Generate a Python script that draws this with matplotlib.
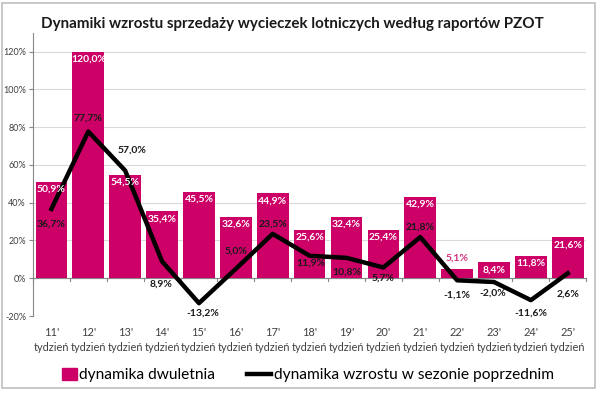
import matplotlib.pyplot as plt
from matplotlib.patches import Rectangle
from matplotlib.lines import Line2D
from matplotlib.legend_handler import HandlerPatch
import numpy as np

# data
weeks = ["11'", "12'", "13'", "14'", "15'", "16'", "17'", "18'", "19'", "20'",
         "21'", "22'", "23'", "24'", "25'"]
dwuletnia = [50.9, 120.0, 54.5, 35.4, 45.5, 32.6, 44.9, 25.6, 32.4, 25.4,
             42.9, 5.1, 8.4, 11.8, 21.6]
poprzedni = [36.7, 77.7, 57.0, 8.9, -13.2, 5.0, 23.5, 11.9, 10.8, 5.7,
             21.8, -1.1, -2.0, -11.6, 2.6]
# label offsets (points) for the line values
line_offsets = [(0, -11), (0, 10), (5, 15), (-1, -16), (3, -7), (0, 13), (0, 7),
                (1, -5), (0, -10), (0, -8), (0, 7), (0, -11), (-1, -8), (0, -9),
                (0, -15)]

plt.rcParams['font.family'] = ['Lato', 'DejaVu Sans']

pink = '#cc0066'
fig = plt.figure(figsize=(6, 3.95), dpi=100)
fig.patches.append(Rectangle((0.004, 0.018), 0.987, 0.974, transform=fig.transFigure,
                             fill=False, edgecolor='#bfbfbf', linewidth=1.2))
ax = fig.add_axes([0.055, 0.2, 0.922, 0.717])

x = np.arange(len(weeks))
ax.bar(x, dwuletnia, width=0.86, color=pink, zorder=2)
ax.plot(x, poprzedni, color='black', linewidth=3.2, zorder=3)

for i, v in enumerate(dwuletnia):
    if v < 8:
        ax.annotate(f'{v:.1f}%'.replace('.', ','), (x[i], v), xytext=(0, 4),
                    textcoords='offset points', ha='center', va='bottom',
                    fontsize=7.5, fontweight='bold', color='#d0307a', zorder=4)
    else:
        ax.annotate(f'{v:.1f}%'.replace('.', ','), (x[i], v), xytext=(0, -2),
                    textcoords='offset points', ha='center', va='top',
                    fontsize=7.5, fontweight='bold', color='white', zorder=4)

for i, v in enumerate(poprzedni):
    dx, dy = line_offsets[i]
    ax.annotate(f'{v:.1f}%'.replace('.', ','), (x[i], v), xytext=(dx, dy),
                textcoords='offset points', ha='center', va='center',
                fontsize=7.5, fontweight='bold', color='#1a1a1a', zorder=5)

ax.set_xlim(-0.5, len(weeks) - 0.5)
ax.set_ylim(-20, 130)
ax.set_yticks(range(-20, 121, 20))
ax.set_yticklabels([f'{t}%' for t in range(-20, 121, 20)], fontsize=6.5, color='#404040')
ax.yaxis.grid(True, color='#d9d9d9', linewidth=0.8, zorder=0)
ax.set_axisbelow(True)
ax.tick_params(axis='y', length=3, color='#868686', pad=2)

ax.set_xticks(x)
ax.set_xticklabels([w + '\ntydzień' for w in weeks], fontsize=7.9, color='#404040',
                   linespacing=1.4)
ax.tick_params(axis='x', length=0, pad=8)
for b in np.arange(-0.5, len(weeks), 1.0):
    ax.plot([b, b], [0, -1.6], color='#868686', linewidth=0.8, zorder=1, clip_on=False)
ax.axhline(0, color='#868686', linewidth=0.8, zorder=1)

for s in ['top', 'right', 'bottom']:
    ax.spines[s].set_visible(False)
ax.spines['left'].set_color('#868686')
ax.spines['left'].set_linewidth(0.8)

fig.text(0.488, 0.94, 'Dynamiki wzrostu sprzedaży wycieczek lotniczych według raportów PZOT',
         ha='center', va='center', fontsize=10.9, fontweight='bold', color='#1a1a1a')


# small square for the bar entry, placed at the right end of the handle box
def square(legend, orig_handle, xdescent, ydescent, width, height, fontsize):
    w = 11.0
    h = 8.6
    return Rectangle((width - w - xdescent, -ydescent + (height - h) / 2), w, h)


handles = [Rectangle((0, 0), 1, 1, color=pink),
           Line2D([], [], color='black', linewidth=3.2)]
fig.legend(handles, ['dynamika dwuletnia', 'dynamika wzrostu w sezonie poprzednim'],
           loc='center', bbox_to_anchor=(0.505, 0.05), ncol=2, frameon=False,
           fontsize=11.2, handlelength=1.6, handletextpad=0.15, columnspacing=2.0,
           handler_map={Rectangle: HandlerPatch(patch_func=square)})

fig.savefig('out.png', dpi=100)
